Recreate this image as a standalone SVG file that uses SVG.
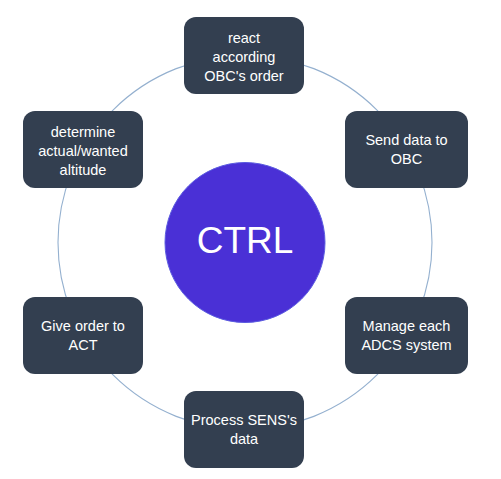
<svg xmlns="http://www.w3.org/2000/svg" width="501" height="479" viewBox="0 0 501 479">
<style>
.box{fill:#333f50;}
.t{fill:#ffffff;font-family:"Liberation Sans",Arial,sans-serif;font-size:14.5px;text-anchor:middle;}
.ring{fill:none;stroke:#94b0cf;stroke-width:1.1;}
</style>
<rect width="501" height="479" fill="#ffffff"/>
<g id="connectors">
<circle class="ring" cx="245" cy="242.5" r="187"/>
</g>
<g id="ctrl">
<circle cx="245" cy="242.5" r="80" fill="#4a30d6" stroke="#5a5ae0" stroke-width="1"/>
<text x="245" y="253" fill="#ffffff" font-family="'Liberation Sans',Arial,sans-serif" font-size="37" text-anchor="middle">CTRL</text>
</g>
<g id="react">
<rect class="box" x="184" y="17" width="120" height="77" rx="12"/>
<text class="t" x="244" y="43">react</text>
<text class="t" x="244" y="62">according</text>
<text class="t" x="244" y="81">OBC's order</text>
</g>
<g id="send">
<rect class="box" x="345" y="111" width="123" height="77" rx="12"/>
<text class="t" x="406.5" y="145">Send data to</text>
<text class="t" x="406.5" y="164">OBC</text>
</g>
<g id="manage">
<rect class="box" x="345" y="297" width="123" height="77" rx="12"/>
<text class="t" x="406.5" y="331">Manage each</text>
<text class="t" x="406.5" y="350">ADCS system</text>
</g>
<g id="process">
<rect class="box" x="184" y="391" width="120" height="77" rx="12"/>
<text class="t" x="244" y="425">Process SENS's</text>
<text class="t" x="244" y="444">data</text>
</g>
<g id="give">
<rect class="box" x="23" y="297" width="120" height="77" rx="12"/>
<text class="t" x="83" y="331">Give order to</text>
<text class="t" x="83" y="350">ACT</text>
</g>
<g id="determine">
<rect class="box" x="23" y="111" width="120" height="77" rx="12"/>
<text class="t" x="83" y="137">determine</text>
<text class="t" x="83" y="156">actual/wanted</text>
<text class="t" x="83" y="175">altitude</text>
</g>
</svg>
